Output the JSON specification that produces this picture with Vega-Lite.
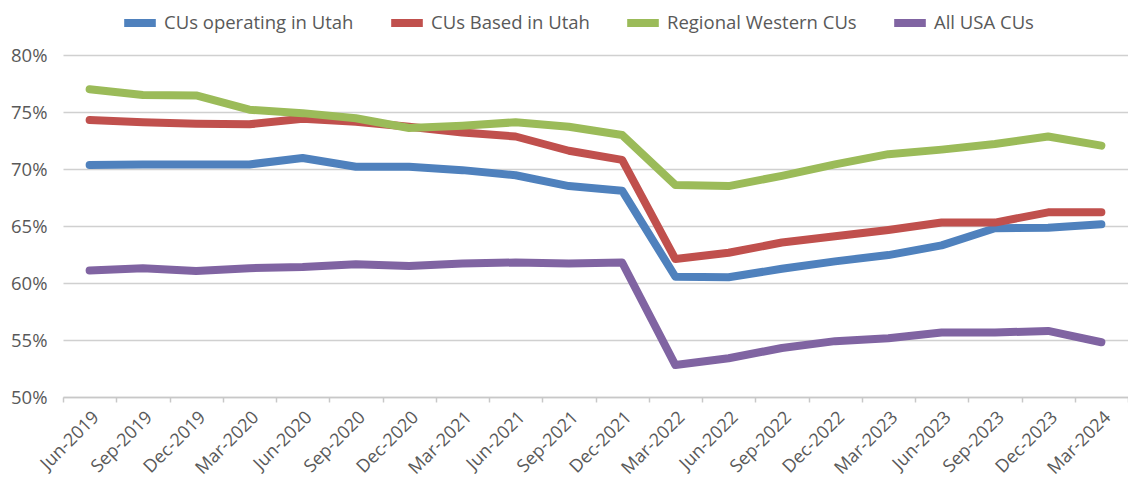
{
  "$schema": "https://vega.github.io/schema/vega-lite/v6.json",
  "width": 1065,
  "height": 342,
  "autosize": {"type": "none"},
  "padding": {"left": 63, "top": 55, "right": 0, "bottom": 82},
  "background": "white",
  "config": {
    "font": "Open Sans",
    "view": {"stroke": null}
  },
  "datasets": {
    "wide": [
      {"d": "Jun-2019", "a": 70.35, "b": 74.3, "c": 77.0, "e": 61.1},
      {"d": "Sep-2019", "a": 70.4, "b": 74.1, "c": 76.5, "e": 61.3},
      {"d": "Dec-2019", "a": 70.4, "b": 73.98, "c": 76.45, "e": 61.05},
      {"d": "Mar-2020", "a": 70.4, "b": 73.92, "c": 75.2, "e": 61.3},
      {"d": "Jun-2020", "a": 70.96, "b": 74.4, "c": 74.9, "e": 61.4},
      {"d": "Sep-2020", "a": 70.2, "b": 74.15, "c": 74.45, "e": 61.65},
      {"d": "Dec-2020", "a": 70.2, "b": 73.7, "c": 73.6, "e": 61.5},
      {"d": "Mar-2021", "a": 69.9, "b": 73.2, "c": 73.8, "e": 61.7},
      {"d": "Jun-2021", "a": 69.45, "b": 72.85, "c": 74.1, "e": 61.8},
      {"d": "Sep-2021", "a": 68.5, "b": 71.6, "c": 73.7, "e": 61.7},
      {"d": "Dec-2021", "a": 68.1, "b": 70.8, "c": 72.98, "e": 61.8},
      {"d": "Mar-2022", "a": 60.55, "b": 62.1, "c": 68.6, "e": 52.8},
      {"d": "Jun-2022", "a": 60.5, "b": 62.65, "c": 68.5, "e": 53.4},
      {"d": "Sep-2022", "a": 61.25, "b": 63.55, "c": 69.4, "e": 54.3},
      {"d": "Dec-2022", "a": 61.9, "b": 64.1, "c": 70.4, "e": 54.9},
      {"d": "Mar-2023", "a": 62.45, "b": 64.65, "c": 71.3, "e": 55.15},
      {"d": "Jun-2023", "a": 63.3, "b": 65.3, "c": 71.7, "e": 55.65},
      {"d": "Sep-2023", "a": 64.8, "b": 65.3, "c": 72.2, "e": 55.65},
      {"d": "Dec-2023", "a": 64.85, "b": 66.2, "c": 72.85, "e": 55.8},
      {"d": "Mar-2024", "a": 65.15, "b": 66.2, "c": 72.05, "e": 54.8}
    ]
  },
  "data": {"name": "wide"},
  "transform": [
    {"fold": ["a", "b", "c", "e"], "as": ["key", "v"]},
    {"lookup": "key", "from": {"data": {"values": [
      {"key": "a", "series": "CUs operating in Utah"},
      {"key": "b", "series": "CUs Based in Utah"},
      {"key": "c", "series": "Regional Western CUs"},
      {"key": "e", "series": "All USA CUs"}
    ]}, "key": "key", "fields": ["series"]}}
  ],
  "mark": {"type": "line", "strokeWidth": 8, "strokeJoin": "round", "strokeCap": "round"},
  "encoding": {
    "x": {
      "field": "d", "type": "ordinal", "sort": null, "bandPosition": 0.5,
      "scale": {"type": "band", "paddingInner": 0, "paddingOuter": 0},
      "axis": {
        "title": null, "labelAngle": -45, "labelFontSize": 18, "labelColor": "#595959",
        "domainColor": "#c8c8c8", "domainWidth": 1.5, "tickColor": "#c8c8c8", "tickSize": 5, "tickWidth": 1.5,
        "tickBand": "extent", "grid": false, "labelPadding": 6, "labelLimit": 0
      }
    },
    "y": {
      "field": "v", "type": "quantitative",
      "scale": {"domain": [50, 80], "nice": false, "zero": false},
      "axis": {
        "title": null, "values": [50, 55, 60, 65, 70, 75, 80],
        "labelExpr": "datum.value + '%'", "labelFontSize": 18.5, "labelColor": "#595959",
        "domain": false, "ticks": false, "gridColor": "#d0d0d0", "gridWidth": 1.5, "labelPadding": 16
      }
    },
    "color": {
      "field": "series", "type": "nominal",
      "scale": {
        "domain": ["CUs operating in Utah", "CUs Based in Utah", "Regional Western CUs", "All USA CUs"],
        "range": ["#4F81BD", "#C0504D", "#9BBB59", "#8064A2"]
      },
      "legend": {
        "title": null, "orient": "none", "direction": "horizontal",
        "legendX": 57, "legendY": -52,
        "symbolType": "stroke", "symbolStrokeWidth": 8, "symbolSize": 1000,
        "labelFontSize": 18.5, "labelColor": "#595959", "labelOffset": 4, "labelLimit": 0,
        "columnPadding": 21
      }
    },
    "order": {"field": "key"}
  }
}
